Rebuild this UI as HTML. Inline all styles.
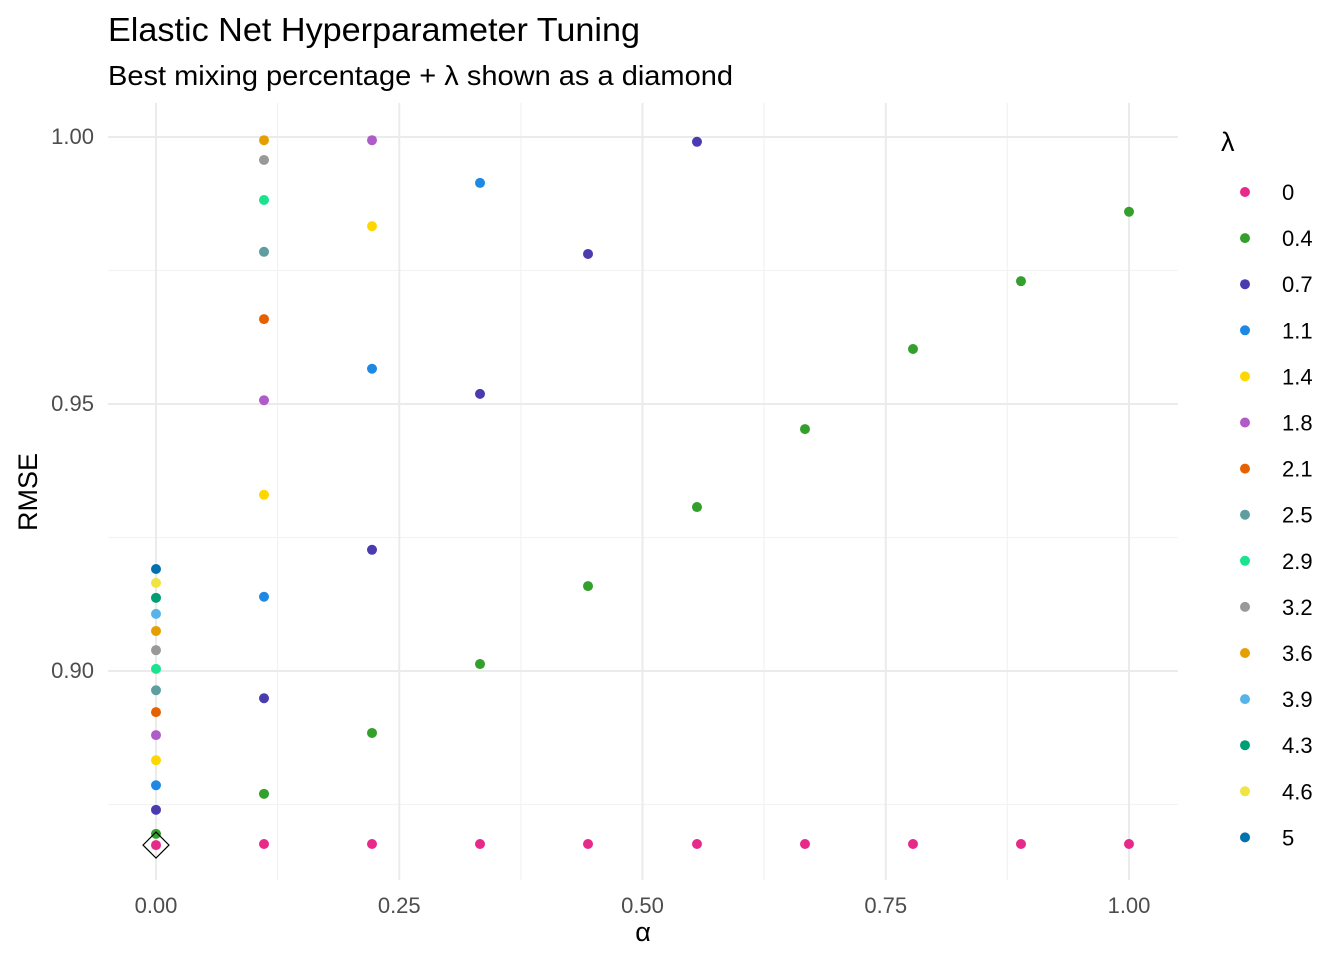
<!DOCTYPE html>
<html><head><meta charset="utf-8"><style>
html,body{margin:0;padding:0;background:#fff}
svg text{font-family:"Liberation Sans",sans-serif}
</style></head><body>
<svg id="chart" width="1344" height="960" xmlns="http://www.w3.org/2000/svg">
<text x="108" y="41" font-size="33" textLength="532" lengthAdjust="spacingAndGlyphs" fill="#000">Elastic Net Hyperparameter Tuning</text>
<text x="108" y="85" font-size="28" textLength="625" lengthAdjust="spacingAndGlyphs" fill="#000">Best mixing percentage + λ shown as a diamond</text>
<g id="grid"></g>
<g id="points"></g>
<g id="axes"></g>
<g id="legend"></g>
</svg>
<script>
const alphas=[0,0.111,0.222,0.333,0.444,0.556,0.667,0.778,0.889,1.0];
const lambdaLabels=["0","0.4","0.7","1.1","1.4","1.8","2.1","2.5","2.9","3.2","3.6","3.9","4.3","4.6","5"];
const colors=["#E7298A","#33A02C","#4B3BB0","#1E88E5","#FFD700","#B05CC8","#E66100","#5E9EA0","#19E38F","#999999","#E69F00","#56B4E9","#009E73","#F0E442","#0072B2"];
const rmse0=[0.8674,0.8676,0.8676,0.8676,0.8676,0.8676,0.8676,0.8676,0.8676,0.8676];
const rmse04=[0.8695,0.8770,0.8884,0.9013,0.9159,0.9307,0.9453,0.9603,0.9730,0.9860];
const rmse07=[0.8740,0.8949,0.9227,0.9519,0.9781,0.9991,null,null,null,null];
const rmse11=[0.8786,0.9139,0.9566,0.9914,null,null,null,null,null,null];
const rmse14=[0.8833,0.9330,0.9833,null,null,null,null,null,null,null];
const rmse18=[0.8880,0.9507,0.9994,null,null,null,null,null,null,null];
const rmse21=[0.8923,0.9659,null,null,null,null,null,null,null,null];
const rmse25=[0.8964,0.9785,null,null,null,null,null,null,null,null];
const rmse29=[0.9004,0.9882,null,null,null,null,null,null,null,null];
const rmse32=[0.9039,0.9957,null,null,null,null,null,null,null,null];
const rmse36=[0.9075,0.9994,null,null,null,null,null,null,null,null];
const rmse39=[0.9107,null,null,null,null,null,null,null,null,null];
const rmse43=[0.9137,null,null,null,null,null,null,null,null,null];
const rmse46=[0.9165,null,null,null,null,null,null,null,null,null];
const rmse50=[0.9191,null,null,null,null,null,null,null,null,null];
const series=[rmse0,rmse04,rmse07,rmse11,rmse14,rmse18,rmse21,rmse25,rmse29,rmse32,rmse36,rmse39,rmse43,rmse46,rmse50];
const xTicks=[0,0.25,0.5,0.75,1.0];
const xTickLabels=["0.00","0.25","0.50","0.75","1.00"];
const yTicks=[0.90,0.95,1.00];
const yTickLabels=["0.90","0.95","1.00"];
const best={alpha:0,rmse:0.8674};

const NS="http://www.w3.org/2000/svg";
const X=v=>156+v*973;
const Y=v=>137+(1-v)*5340;
const L=108,R=1178,T=103,B=880;
function mk(tag,attrs,parent){const e=document.createElementNS(NS,tag);for(const k in attrs)e.setAttribute(k,attrs[k]);parent.appendChild(e);return e;}
const grid=document.getElementById('grid');
[0.125,0.375,0.625,0.875].forEach(v=>{const e=mk('line',{x1:X(v),x2:X(v),y1:T,y2:B,stroke:'#f3f3f3','stroke-width':1.2},grid);

});
[0.875,0.925,0.975].forEach(v=>{const e=mk('line',{x1:L,x2:R,y1:Y(v),y2:Y(v),stroke:'#f3f3f3','stroke-width':1.2},grid);

});
xTicks.forEach(v=>{const e=mk('line',{x1:X(v),x2:X(v),y1:T,y2:B,stroke:'#ebebeb','stroke-width':2},grid);

});
yTicks.forEach(v=>{const e=mk('line',{x1:L,x2:R,y1:Y(v),y2:Y(v),stroke:'#ebebeb','stroke-width':2},grid);

});
const axes=document.getElementById('axes');
xTicks.forEach((v,i)=>{const t=mk('text',{x:X(v),y:913,'font-size':22,fill:'#4d4d4d','text-anchor':'middle'},axes);t.textContent=xTickLabels[i];

});
yTicks.forEach((v,i)=>{const t=mk('text',{x:94,y:Y(v)+7,'font-size':22,fill:'#4d4d4d','text-anchor':'end'},axes);t.textContent=yTickLabels[i];

});
let t=mk('text',{x:643,y:941,'font-size':27,'text-anchor':'middle','font-family':'Liberation Serif, serif'},axes);t.textContent='α';


t=mk('text',{x:0,y:0,'font-size':27,'text-anchor':'middle',transform:'translate(37,492) rotate(-90)'},axes);t.textContent='RMSE';


const pts=document.getElementById('points');
series.forEach((s,li)=>{s.forEach((v,ai)=>{if(v===null||v>1.006)return;
const c=mk('circle',{cx:X(alphas[ai]),cy:Y(v),r:5,fill:colors[li]},pts);

});});
const bx=X(best.alpha),by=Y(best.rmse);
const d=mk('polygon',{points:`${bx},${by-13} ${bx+13},${by} ${bx},${by+13} ${bx-13},${by}`,fill:'none',stroke:'#000','stroke-width':1.2},pts);


const lg=document.getElementById('legend');
t=mk('text',{x:1221,y:151,'font-size':27,'font-family':'Liberation Serif, serif'},lg);t.textContent='λ';


lambdaLabels.forEach((lab,i)=>{const y=192+i*46.1;
const g=mk('g',{},lg);


mk('circle',{cx:1245,cy:y,r:5,fill:colors[i]},g);
const tx=mk('text',{x:1282,y:y+8,'font-size':22,fill:'#000'},g);tx.textContent=lab;});
</script>
</body></html>
